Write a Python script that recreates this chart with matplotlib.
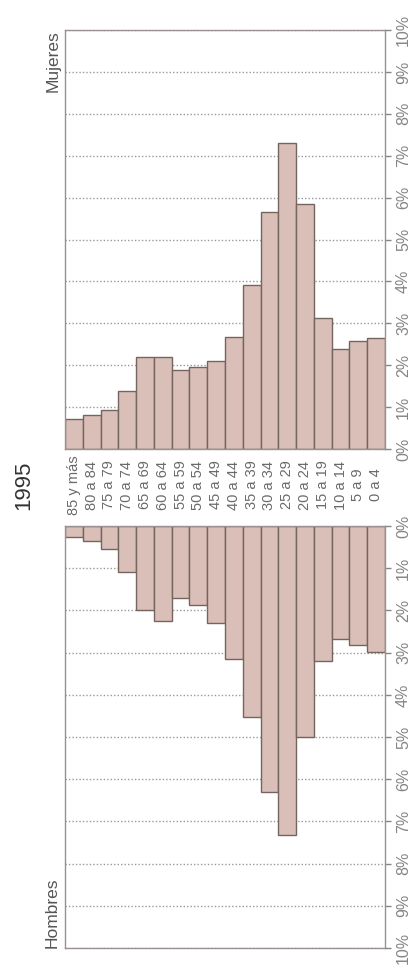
import matplotlib
matplotlib.use("Agg")
import matplotlib.pyplot as plt
import matplotlib.transforms as mtransforms

plt.rcParams['font.family'] = ['Liberation Sans', 'DejaVu Sans']

# age groups, oldest first (left to right in the picture)
edades = ["85 y más", "80 a 84", "75 a 79", "70 a 74", "65 a 69", "60 a 64",
          "55 a 59", "50 a 54", "45 a 49", "40 a 44", "35 a 39", "30 a 34",
          "25 a 29", "20 a 24", "15 a 19", "10 a 14", "5 a 9", "0 a 4"]

# % of population, 1995
mujeres = [0.72, 0.81, 0.93, 1.39, 2.19, 2.19, 1.89, 1.95, 2.11, 2.67,
           3.91, 5.65, 7.31, 5.84, 3.13, 2.39, 2.58, 2.66]
hombres = [0.27, 0.36, 0.55, 1.10, 2.00, 2.24, 1.70, 1.88, 2.30, 3.14,
           4.52, 6.31, 7.32, 5.00, 3.19, 2.67, 2.83, 2.98]

ticks = list(range(0, 11))
tick_labels = [f"{t}%" for t in ticks]

bar_color = "#d9bfb8"
edge_color = "#75655f"
gray = "#858585"

fig = plt.figure(figsize=(4.13, 9.65), dpi=100)
ax_m = fig.add_axes([0.1574, 0.5347, 0.7748, 0.4342])
ax_h = fig.add_axes([0.1574, 0.0176, 0.7748, 0.4373])

x = list(range(len(edades)))

for ax, vals in [(ax_m, mujeres), (ax_h, hombres)]:
    ax.bar(x, vals, width=1.0, color=bar_color, edgecolor=edge_color, linewidth=1.0, zorder=2)
    ax.set_xlim(-0.5, len(edades) - 0.5)
    ax.set_ylim(0, 10)
    ax.set_xticks([])
    ax.yaxis.tick_right()
    ax.set_yticks(ticks)
    ax.set_yticklabels(tick_labels, rotation=90, va="center")
    ax.tick_params(axis="y", colors=gray, labelcolor=gray, labelsize=11.5,
                   length=4, width=1, pad=4)
    ax.grid(axis="y", linestyle=(0, (1, 1.5)), color="#999999", linewidth=1.0)
    ax.set_axisbelow(True)
    for s in ax.spines.values():
        s.set_color("#999090")
        s.set_linewidth(1.0)

ax_h.invert_yaxis()

# age labels between the two panels
trans = mtransforms.blended_transform_factory(ax_m.transData, fig.transFigure)
for i, lab in enumerate(edades):
    ax_m.text(i, 0.4974, lab, transform=trans, rotation=90, ha="center", va="center",
              fontsize=10.5, color="#6a6a6a")

fig.text(0.058, 0.4974, "1995", rotation=90, ha="center", va="center",
         fontsize=16, color="#333333")
fig.text(0.129, 0.9689, "Mujeres", rotation=90, ha="center", va="top",
         fontsize=12.5, color="#555555")
fig.text(0.126, 0.0176, "Hombres", rotation=90, ha="center", va="bottom",
         fontsize=12.5, color="#555555")

fig.savefig("out.png", dpi=100)
